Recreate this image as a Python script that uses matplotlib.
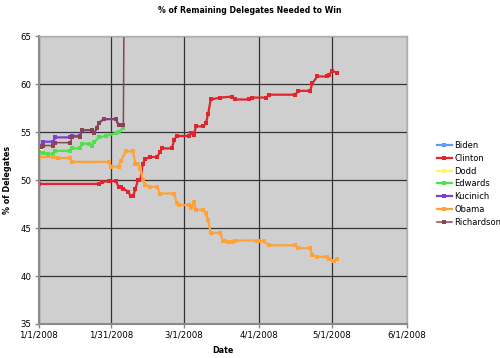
#!/usr/bin/env python
# -*- coding: utf-8 -*-

'''
% of remaining delegates needed to win, 2008 democratic primaries
'''

import pandas as pd
import matplotlib
matplotlib.use('Agg')
import matplotlib.pyplot as plt

plt.rcParams['font.family'] = ['DejaVu Sans']

# 数据：日期 + 百分比
biden_dates = ['2008-01-01', '2008-01-02']
biden_vals = [53.4, 53.3]

dodd_dates = ['2008-01-01', '2008-01-02']
dodd_vals = [53.1, 53.0]

clinton_dates = ['2008-01-01', '2008-01-26', '2008-01-27', '2008-01-30', '2008-02-02',
                 '2008-02-03', '2008-02-04', '2008-02-05', '2008-02-07', '2008-02-08',
                 '2008-02-09', '2008-02-10', '2008-02-11', '2008-02-12', '2008-02-13',
                 '2008-02-14', '2008-02-16', '2008-02-19', '2008-02-20', '2008-02-21',
                 '2008-02-25', '2008-02-26', '2008-02-27', '2008-03-03', '2008-03-04',
                 '2008-03-05', '2008-03-06', '2008-03-09', '2008-03-10', '2008-03-11',
                 '2008-03-12', '2008-03-16', '2008-03-21', '2008-03-22', '2008-03-28',
                 '2008-03-29', '2008-04-04', '2008-04-05', '2008-04-16', '2008-04-17',
                 '2008-04-22', '2008-04-23', '2008-04-25', '2008-04-29', '2008-04-30',
                 '2008-05-01', '2008-05-03']
clinton_vals = [49.6, 49.6, 49.8, 49.9, 49.9,
                49.3, 49.3, 49.1, 48.8, 48.3,
                48.3, 49.1, 50.0, 50.0, 51.7,
                52.2, 52.4, 52.4, 52.9, 53.3,
                53.3, 54.2, 54.6, 54.6, 54.9,
                54.7, 55.6, 55.6, 55.9, 56.9,
                58.4, 58.6, 58.7, 58.4, 58.4,
                58.6, 58.6, 58.9, 58.9, 59.3,
                59.3, 60.1, 60.8, 60.8, 61.0,
                61.4, 61.2]

obama_dates = ['2008-01-01', '2008-01-07', '2008-01-09', '2008-01-14', '2008-01-15',
               '2008-01-30', '2008-01-31', '2008-02-03', '2008-02-04', '2008-02-06',
               '2008-02-09', '2008-02-10', '2008-02-11', '2008-02-12', '2008-02-13',
               '2008-02-14', '2008-02-16', '2008-02-19', '2008-02-20', '2008-02-26',
               '2008-02-27', '2008-02-28', '2008-03-03', '2008-03-04', '2008-03-05',
               '2008-03-06', '2008-03-09', '2008-03-10', '2008-03-11', '2008-03-12',
               '2008-03-16', '2008-03-17', '2008-03-18', '2008-03-19', '2008-03-21',
               '2008-03-22', '2008-03-31', '2008-04-01', '2008-04-03', '2008-04-05',
               '2008-04-16', '2008-04-17', '2008-04-22', '2008-04-23', '2008-04-25',
               '2008-04-29', '2008-04-30', '2008-05-02', '2008-05-03']
obama_vals = [52.4, 52.4, 52.3, 52.3, 51.9,
              51.9, 51.4, 51.4, 52.0, 53.0,
              53.0, 51.7, 51.7, 51.2, 50.0,
              49.5, 49.3, 49.3, 48.6, 48.6,
              47.6, 47.4, 47.4, 47.1, 47.7,
              46.9, 46.9, 46.6, 45.8, 44.5,
              44.5, 43.7, 43.7, 43.5, 43.5,
              43.7, 43.7, 43.6, 43.6, 43.2,
              43.2, 42.9, 42.9, 42.2, 42.0,
              42.0, 41.75, 41.6, 41.8]

edwards_dates = ['2008-01-01', '2008-01-03', '2008-01-05', '2008-01-07', '2008-01-08',
                 '2008-01-14', '2008-01-15', '2008-01-18', '2008-01-19', '2008-01-22',
                 '2008-01-23', '2008-01-24', '2008-01-26', '2008-01-29', '2008-02-02',
                 '2008-02-03', '2008-02-05']
edwards_vals = [52.9, 52.85, 52.7, 52.7, 53.05,
                53.05, 53.3, 53.3, 53.8, 53.8,
                53.6, 54.0, 54.45, 54.6, 54.9,
                55.05, 55.4]

kucinich_dates = ['2008-01-01', '2008-01-02', '2008-01-03', '2008-01-07', '2008-01-08',
                  '2008-01-14', '2008-01-15', '2008-01-18', '2008-01-19', '2008-01-23',
                  '2008-01-24', '2008-01-25', '2008-01-26', '2008-01-28', '2008-02-02',
                  '2008-02-03', '2008-02-05']
kucinich_vals = [53.6, 53.6, 54.0, 54.0, 54.45,
                 54.45, 54.6, 54.6, 55.2, 55.2,
                 54.9, 55.4, 56.0, 56.35, 56.35,
                 55.7, 55.7]

richardson_dates = ['2008-01-01', '2008-01-02', '2008-01-03', '2008-01-07', '2008-01-08',
                    '2008-01-14', '2008-01-15', '2008-01-18', '2008-01-19', '2008-01-23',
                    '2008-01-24', '2008-01-25', '2008-01-26', '2008-01-28', '2008-02-02',
                    '2008-02-03', '2008-02-05', '2008-02-06']
richardson_vals = [53.4, 53.4, 53.6, 53.6, 53.9,
                   53.9, 54.5, 54.5, 55.2, 55.2,
                   54.9, 55.4, 56.0, 56.35, 56.35,
                   55.7, 55.7, 100.0]

names = ['Biden', 'Clinton', 'Dodd', 'Edwards', 'Kucinich', 'Obama', 'Richardson']
colors = ['#5f9ef0', '#e0252d', '#fff56a', '#4fe04f', '#7b3fd6', '#ffa23a', '#8a4450']
series = [(biden_dates, biden_vals), (clinton_dates, clinton_vals),
          (dodd_dates, dodd_vals), (edwards_dates, edwards_vals),
          (kucinich_dates, kucinich_vals), (obama_dates, obama_vals),
          (richardson_dates, richardson_vals)]

x_ticks = ['2008-01-01', '2008-01-31', '2008-03-01', '2008-04-01', '2008-05-01', '2008-06-01']
x_labels = ['1/1/2008', '1/31/2008', '3/1/2008', '4/1/2008', '5/1/2008', '6/1/2008']
y_ticks = [35, 40, 45, 50, 55, 60, 65]

fig = plt.figure(figsize=(5, 3.58), dpi=100)
ax = fig.add_axes([0.077, 0.095, 0.737, 0.804])
ax.set_facecolor('#cfcfcf')

for name, col, (d, v) in zip(names, colors, series):
    lw = 1.1 if name == 'Richardson' else 1.6
    ax.plot(pd.to_datetime(d), v, color=col, lw=lw, marker='s', markersize=2.4,
            markeredgewidth=0, label=name)

ax.set_xlim(pd.Timestamp('2008-01-01'), pd.Timestamp('2008-06-01'))
ax.set_ylim(35, 65)
ax.set_xticks(pd.to_datetime(x_ticks))
ax.set_xticklabels(x_labels)
ax.set_yticks(y_ticks)
ax.grid(True, color='#333333', lw=0.9)
ax.set_axisbelow(True)

ax.tick_params(labelsize=6.2, length=3, width=1, color='#888888', pad=2)
for s in ['left', 'bottom']:
    ax.spines[s].set_color('#8a8a8a')
    ax.spines[s].set_linewidth(1.5)
for s in ['top', 'right']:
    ax.spines[s].set_color('#b0b0b0')
    ax.spines[s].set_linewidth(1.0)

fig.text(0.5, 0.972, '% of Remaining Delegates Needed to Win', ha='center', va='center',
         fontsize=5.6, fontweight='bold')
ax.set_xlabel('Date', fontsize=5.8, fontweight='bold')
ax.xaxis.set_label_coords(0.5, -0.076)
ax.set_ylabel('% of Delegates', fontsize=5.8, fontweight='bold')
ax.yaxis.set_label_coords(-0.072, 0.5)

leg = ax.legend(loc='upper left', bbox_to_anchor=(0.868, 0.615), bbox_transform=fig.transFigure,
                frameon=False, fontsize=6.0, handlelength=1.7, handletextpad=0.35,
                labelspacing=0.45, borderaxespad=0)

fig.savefig('out.png', dpi=100)
